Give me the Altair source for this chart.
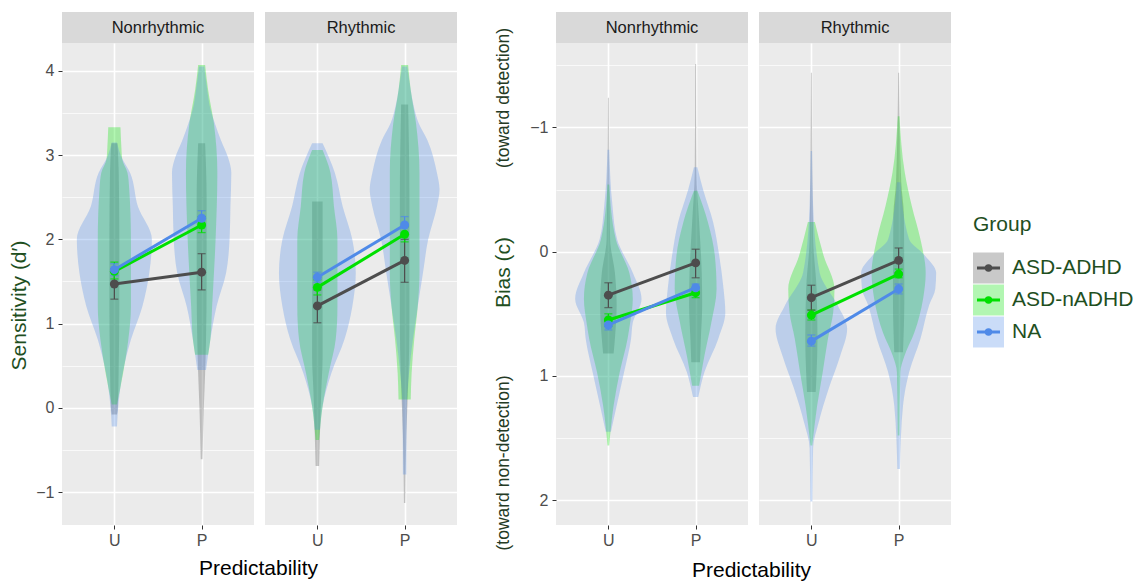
import altair as alt
import pandas as pd

# ---------------- data ----------------
groups = ["ASD-ADHD", "ASD-nADHD", "NA"]
line_colors = ["#4D4D4D", "#00E000", "#4F8AE8"]
fill_colors = ["#4D4D4D", "#00E600", "#4F8AE8"]
rhythms = ["Nonrhythmic", "Rhythmic"]
cond_labels = ["U", "P"]
cond_pos = [1, 2]

sens_ticks = [-1, 0, 1, 2, 3, 4]
sens_minor = [-0.5, 0.5, 1.5, 2.5, 3.5]
bias_ticks = [-1, 0, 1, 2]
bias_minor = [-1.5, -0.5, 0.5, 1.5]

# means and error bars, order: [U, P]
sens_mean = {
    "Nonrhythmic": {"ASD-ADHD": [1.47, 1.61], "ASD-nADHD": [1.62, 2.17], "NA": [1.64, 2.25]},
    "Rhythmic": {"ASD-ADHD": [1.21, 1.75], "ASD-nADHD": [1.43, 2.06], "NA": [1.55, 2.17]},
}
sens_lo = {
    "Nonrhythmic": {"ASD-ADHD": [1.29, 1.40], "ASD-nADHD": [1.53, 2.08], "NA": [1.57, 2.15]},
    "Rhythmic": {"ASD-ADHD": [1.01, 1.49], "ASD-nADHD": [1.34, 1.97], "NA": [1.49, 2.08]},
}
sens_hi = {
    "Nonrhythmic": {"ASD-ADHD": [1.65, 1.83], "ASD-nADHD": [1.73, 2.27], "NA": [1.71, 2.34]},
    "Rhythmic": {"ASD-ADHD": [1.40, 2.00], "ASD-nADHD": [1.52, 2.15], "NA": [1.61, 2.27]},
}
bias_mean = {
    "Nonrhythmic": {"ASD-ADHD": [0.35, 0.09], "ASD-nADHD": [0.55, 0.33], "NA": [0.59, 0.29]},
    "Rhythmic": {"ASD-ADHD": [0.37, 0.07], "ASD-nADHD": [0.51, 0.18], "NA": [0.72, 0.30]},
}
bias_lo = {
    "Nonrhythmic": {"ASD-ADHD": [0.25, -0.02], "ASD-nADHD": [0.50, 0.29], "NA": [0.54, 0.26]},
    "Rhythmic": {"ASD-ADHD": [0.27, -0.03], "ASD-nADHD": [0.47, 0.14], "NA": [0.67, 0.26]},
}
bias_hi = {
    "Nonrhythmic": {"ASD-ADHD": [0.45, 0.21], "ASD-nADHD": [0.60, 0.37], "NA": [0.63, 0.33]},
    "Rhythmic": {"ASD-ADHD": [0.47, 0.17], "ASD-nADHD": [0.55, 0.21], "NA": [0.76, 0.34]},
}

# violin outlines: [value, half-width (in category units)]
sens_violins = {
    ("Nonrhythmic", "ASD-ADHD", "U"): [[3.14, 0.035], [2.8, 0.05], [2.0, 0.057], [1.2, 0.057], [0.5, 0.05], [0.0, 0.04], [-0.08, 0.03]],
    ("Nonrhythmic", "ASD-nADHD", "U"): [[3.33, 0.07], [3.1, 0.08], [2.95, 0.09], [2.79, 0.15], [2.6, 0.17], [2.0, 0.19], [1.2, 0.19], [0.81, 0.16], [0.41, 0.10], [0.04, 0.03]],
    ("Nonrhythmic", "NA", "U"): [[3.15, 0.03], [2.98, 0.08], [2.79, 0.18], [2.39, 0.27], [2.0, 0.43], [1.6, 0.40], [1.2, 0.32], [0.81, 0.19], [0.41, 0.095], [0.02, 0.045], [-0.22, 0.03]],
    ("Nonrhythmic", "ASD-ADHD", "P"): [[3.14, 0.04], [2.5, 0.057], [1.5, 0.057], [0.8, 0.05], [0.41, 0.04], [0.0, 0.025], [-0.61, 0.01]],
    ("Nonrhythmic", "ASD-nADHD", "P"): [[4.07, 0.04], [3.77, 0.075], [3.38, 0.14], [2.79, 0.18], [2.0, 0.16], [1.2, 0.12], [0.81, 0.10], [0.63, 0.075]],
    ("Nonrhythmic", "NA", "P"): [[4.05, 0.03], [3.77, 0.065], [3.55, 0.10], [3.38, 0.15], [3.18, 0.22], [2.98, 0.30], [2.79, 0.34], [2.39, 0.33], [2.0, 0.32], [1.6, 0.28], [1.2, 0.17], [0.81, 0.10], [0.45, 0.05]],
    ("Rhythmic", "ASD-ADHD", "U"): [[2.45, 0.06], [1.5, 0.06], [0.6, 0.06], [0.2, 0.045], [-0.3, 0.03], [-0.69, 0.02]],
    ("Rhythmic", "ASD-nADHD", "U"): [[3.06, 0.06], [2.79, 0.15], [2.39, 0.19], [2.0, 0.23], [1.2, 0.23], [0.81, 0.21], [0.41, 0.13], [0.02, 0.06], [-0.38, 0.02]],
    ("Rhythmic", "NA", "U"): [[3.14, 0.06], [2.79, 0.20], [2.39, 0.29], [2.0, 0.40], [1.6, 0.44], [1.2, 0.40], [0.81, 0.31], [0.41, 0.16], [0.02, 0.06], [-0.26, 0.03]],
    ("Rhythmic", "ASD-ADHD", "P"): [[3.6, 0.04], [2.5, 0.055], [1.0, 0.055], [0.41, 0.045], [-0.3, 0.02], [-1.13, 0.008]],
    ("Rhythmic", "ASD-nADHD", "P"): [[4.07, 0.04], [3.77, 0.07], [3.38, 0.13], [2.79, 0.17], [1.6, 0.17], [1.2, 0.15], [0.81, 0.11], [0.41, 0.08], [0.1, 0.07]],
    ("Rhythmic", "NA", "P"): [[4.05, 0.03], [3.77, 0.07], [3.6, 0.10], [3.38, 0.16], [3.18, 0.26], [2.79, 0.37], [2.59, 0.40], [2.39, 0.37], [2.0, 0.27], [1.6, 0.21], [1.2, 0.15], [0.81, 0.095], [0.41, 0.05], [0.02, 0.025], [-0.79, 0.02]],
}
bias_violins = {
    ("Nonrhythmic", "ASD-ADHD", "U"): [[-1.24, 0.005], [-0.1, 0.02], [0.17, 0.075], [0.43, 0.095], [0.70, 0.075], [0.82, 0.06]],
    ("Nonrhythmic", "ASD-nADHD", "U"): [[-0.54, 0.01], [-0.10, 0.085], [0.17, 0.24], [0.38, 0.28], [0.57, 0.25], [0.70, 0.22], [0.97, 0.13], [1.24, 0.06], [1.56, 0.01]],
    ("Nonrhythmic", "NA", "U"): [[-0.82, 0.01], [-0.37, 0.047], [-0.10, 0.10], [0.17, 0.28], [0.38, 0.38], [0.57, 0.28], [0.70, 0.26], [0.97, 0.18], [1.24, 0.095], [1.45, 0.03]],
    ("Nonrhythmic", "ASD-ADHD", "P"): [[-1.51, 0.005], [-0.64, 0.01], [-0.24, 0.04], [0.17, 0.07], [0.43, 0.075], [0.70, 0.06], [0.89, 0.05]],
    ("Nonrhythmic", "ASD-nADHD", "P"): [[-0.49, 0.02], [-0.24, 0.14], [0.03, 0.22], [0.30, 0.24], [0.57, 0.18], [0.84, 0.10], [1.08, 0.04]],
    ("Nonrhythmic", "NA", "P"): [[-0.68, 0.02], [-0.5, 0.085], [-0.24, 0.20], [0.03, 0.27], [0.30, 0.32], [0.49, 0.34], [0.70, 0.26], [0.97, 0.10], [1.17, 0.03]],
    ("Rhythmic", "ASD-ADHD", "U"): [[-1.44, 0.005], [-0.10, 0.02], [0.30, 0.06], [0.70, 0.07], [0.97, 0.06], [1.13, 0.05]],
    ("Rhythmic", "ASD-nADHD", "U"): [[-0.24, 0.04], [0.03, 0.14], [0.30, 0.265], [0.49, 0.25], [0.70, 0.19], [0.97, 0.13], [1.24, 0.066], [1.56, 0.01]],
    ("Rhythmic", "NA", "U"): [[-0.81, 0.008], [-0.37, 0.02], [0.17, 0.095], [0.43, 0.30], [0.62, 0.41], [0.84, 0.33], [1.10, 0.20], [1.37, 0.085], [1.58, 0.02], [2.01, 0.012]],
    ("Rhythmic", "ASD-ADHD", "P"): [[-1.44, 0.005], [-0.56, 0.03], [-0.3, 0.06], [0.4, 0.065], [0.81, 0.05]],
    ("Rhythmic", "ASD-nADHD", "P"): [[-1.09, 0.01], [-0.64, 0.07], [-0.37, 0.15], [-0.10, 0.25], [0.17, 0.31], [0.38, 0.28], [0.65, 0.18], [0.84, 0.066], [0.97, 0.02], [1.48, 0.01]],
    ("Rhythmic", "NA", "P"): [[-0.56, 0.02], [-0.10, 0.12], [0.03, 0.30], [0.17, 0.43], [0.30, 0.42], [0.43, 0.35], [0.70, 0.25], [0.97, 0.12], [1.24, 0.05], [1.75, 0.015]],
}

# ---------------- styling ----------------
FONT = "Liberation Sans"
PANEL_W = 192
PANEL_H = 482
TITLE_COLOR = "#1F4F1F"
GREY_BG = "#EBEBEB"
STRIP_BG = "#D9D9D9"
label_expr = " : ".join(
    [f"datum.value === {p} ? '{l}'" for p, l in zip(cond_pos, cond_labels)] + ["''"]
)
is_major = "abs(datum.value - round(datum.value)) < 1e-6"


def violin_df(violins, rhythm, group, cond, pos):
    rows = []
    for v, hw in violins[(rhythm, group, cond)]:
        rows.append({"y": v, "xl": pos - hw, "xr": pos + hw})
    return pd.DataFrame(rows).sort_values("y")


def summary_df(mean, lo, hi, rhythm):
    rows = []
    for g in groups:
        for i, (cond, pos) in enumerate(zip(cond_labels, cond_pos)):
            rows.append({"group": g, "x": pos, "cond": cond,
                         "m": mean[rhythm][g][i], "lo": lo[rhythm][g][i], "hi": hi[rhythm][g][i]})
    return pd.DataFrame(rows)


def panel(measure, rhythm, first):
    if measure == "sens":
        violins, mean, lo, hi = sens_violins, sens_mean, sens_lo, sens_hi
        dom, rev = [-1.39, 4.33], False
        ticks = sorted(sens_ticks + sens_minor)
        ytitle = "Sensitivity (d′)"
        tX, tY = -33, 262
    else:
        violins, mean, lo, hi = bias_violins, bias_mean, bias_lo, bias_hi
        dom, rev = [-1.68, 2.2], True
        ticks = sorted(bias_ticks + bias_minor)
        ytitle = "Bias (c)"
        tX, tY = -43, 229

    yscale = alt.Scale(domain=dom, reverse=rev, nice=False, zero=False)
    xscale = alt.Scale(domain=[0.4, 2.6], nice=False, zero=False)

    grid_w = {"condition": {"test": is_major, "value": 1.6}, "value": 0.7}
    yaxis = alt.Axis(
        values=ticks, grid=True, gridColor="white", gridWidth=grid_w,
        domain=False, labelOverlap=False, format=".0f",
        labels=first, ticks=first,
        labelExpr=f"{is_major} ? datum.label : ''",
        tickOpacity={"condition": {"test": is_major, "value": 1}, "value": 0},
        tickSize=4, tickColor="#333333", tickWidth=1,
        labelColor="#4D4D4D", labelFontSize=16, labelFont=FONT, labelPadding=4,
        title=ytitle if first else None,
        titleColor=TITLE_COLOR, titleFontSize=21, titleFont=FONT, titleFontWeight="normal",
        titleAngle=270, titleBaseline="bottom", titleX=tX, titleY=tY,
    )
    xaxis = alt.Axis(
        values=cond_pos, grid=True, gridColor="white", gridWidth=1.6,
        domain=False, labelExpr=label_expr, tickSize=4, tickColor="#333333",
        labelColor="#4D4D4D", labelFontSize=16, labelFont=FONT, labelPadding=3,
        title=None,
    )

    sdf = summary_df(mean, lo, hi, rhythm)
    color_line = alt.Color("group:N", scale=alt.Scale(domain=groups, range=line_colors), legend=None)

    layers = []
    # axes / grid carrier
    layers.append(
        alt.Chart(sdf).mark_point(opacity=0).encode(
            x=alt.X("x:Q", scale=xscale, axis=xaxis),
            y=alt.Y("m:Q", scale=yscale, axis=yaxis),
        )
    )
    # violins: drawn in group order, one area per group and condition
    for g, fc in zip(groups, fill_colors):
        for cond, pos in zip(cond_labels, cond_pos):
            vdf = violin_df(violins, rhythm, g, cond, pos)
            layers.append(
                alt.Chart(vdf).mark_area(orient="horizontal", color=fc, fillOpacity=0.3,
                                         interpolate="monotone").encode(
                    y=alt.Y("y:Q", scale=yscale),
                    x=alt.X("xl:Q", scale=xscale, stack=False),
                    x2="xr:Q",
                )
            )
    base = alt.Chart(sdf)
    layers.append(base.mark_rule(strokeWidth=1.3).encode(
        x=alt.X("x:Q", scale=xscale), y=alt.Y("lo:Q", scale=yscale), y2="hi:Q", color=color_line))
    layers.append(base.mark_tick(orient="horizontal", size=8, thickness=1.3).encode(
        x=alt.X("x:Q", scale=xscale), y=alt.Y("lo:Q", scale=yscale), color=color_line))
    layers.append(base.mark_tick(orient="horizontal", size=8, thickness=1.3).encode(
        x=alt.X("x:Q", scale=xscale), y=alt.Y("hi:Q", scale=yscale), color=color_line))
    layers.append(base.mark_line(strokeWidth=3).encode(
        x=alt.X("x:Q", scale=xscale), y=alt.Y("m:Q", scale=yscale), color=color_line,
        detail="group:N"))
    layers.append(base.mark_circle(size=80, opacity=1).encode(
        x=alt.X("x:Q", scale=xscale), y=alt.Y("m:Q", scale=yscale), color=color_line))

    # strip header
    strip = pd.DataFrame({"label": [rhythm]})
    layers.append(alt.Chart(strip).mark_rect(color=STRIP_BG).encode(
        x=alt.value(0), x2=alt.value(PANEL_W), y=alt.value(-31), y2=alt.value(0)))
    layers.append(alt.Chart(strip).mark_text(fontSize=16.5, font=FONT, color="#1A1A1A",
                                             baseline="middle", align="center").encode(
        x=alt.value(PANEL_W / 2), y=alt.value(-15), text="label:N"))

    if measure == "bias" and first:
        for note, yy in [("(toward detection)", 55), ("(toward non-detection)", 420)]:
            layers.append(alt.Chart(pd.DataFrame({"t": [note]}))
                          .mark_text(angle=270, fontSize=17.5, font=FONT, color="#243A24",
                                     baseline="bottom", align="center")
                          .encode(x=alt.value(-43), y=alt.value(yy), text="t:N"))

    return alt.layer(*layers).properties(
        width=PANEL_W, height=PANEL_H,
        view=alt.ViewBackground(fill=GREY_BG, strokeWidth=0),
    )


p1 = panel("sens", "Nonrhythmic", True)
p2 = panel("sens", "Rhythmic", False)
p3 = panel("bias", "Nonrhythmic", True)
p4 = panel("bias", "Rhythmic", False)

# ---------------- legend ----------------
leg_df = pd.DataFrame({"group": groups})
leg_y = alt.Y("group:N", sort=groups, axis=None,
              scale=alt.Scale(type="point", domain=groups, range=[225, 289], padding=0))
leg_fill = alt.Color("group:N", scale=alt.Scale(domain=groups, range=fill_colors), legend=None)
leg_line = alt.Color("group:N", scale=alt.Scale(domain=groups, range=line_colors), legend=None)
legend = alt.layer(
    alt.Chart(leg_df).mark_square(size=31 * 31, opacity=0.3, strokeWidth=0).encode(
        x=alt.value(15.5), y=leg_y, color=leg_fill),
    alt.Chart(leg_df).mark_rule(strokeWidth=3).encode(
        x=alt.value(4), x2=alt.value(27), y=leg_y, color=leg_line),
    alt.Chart(leg_df).mark_circle(size=55, opacity=1).encode(
        x=alt.value(15.5), y=leg_y, color=leg_line),
    alt.Chart(leg_df).mark_text(align="left", baseline="middle", fontSize=21, font=FONT,
                                color=TITLE_COLOR).encode(
        x=alt.value(39), y=leg_y, text="group:N"),
    alt.Chart(pd.DataFrame({"t": ["Group"]})).mark_text(
        align="left", baseline="middle", fontSize=21, font=FONT, color=TITLE_COLOR).encode(
        x=alt.value(0), y=alt.value(182), text="t:N"),
).properties(width=150, height=PANEL_H)


def xtitle(dx, offset):
    return alt.TitleParams(text="Predictability", orient="bottom", anchor="middle", frame="bounds",
                           dx=dx, offset=offset, fontSize=21, font=FONT, fontWeight="normal",
                           color="#000000")


left = alt.hconcat(p1, p2, spacing=11).properties(title=xtitle(26, 10))
right = alt.hconcat(p3, p4, spacing=11).properties(title=xtitle(30, 9))
body = alt.hconcat(left, right, spacing=35)
chart = alt.hconcat(body, legend, spacing=22).properties(
    padding={"left": 8, "top": 12, "right": 0, "bottom": 0}
).configure(background="white", view=alt.ViewConfig(strokeWidth=0))

chart.save("out.html", embed_options={"renderer": "svg", "actions": False})
